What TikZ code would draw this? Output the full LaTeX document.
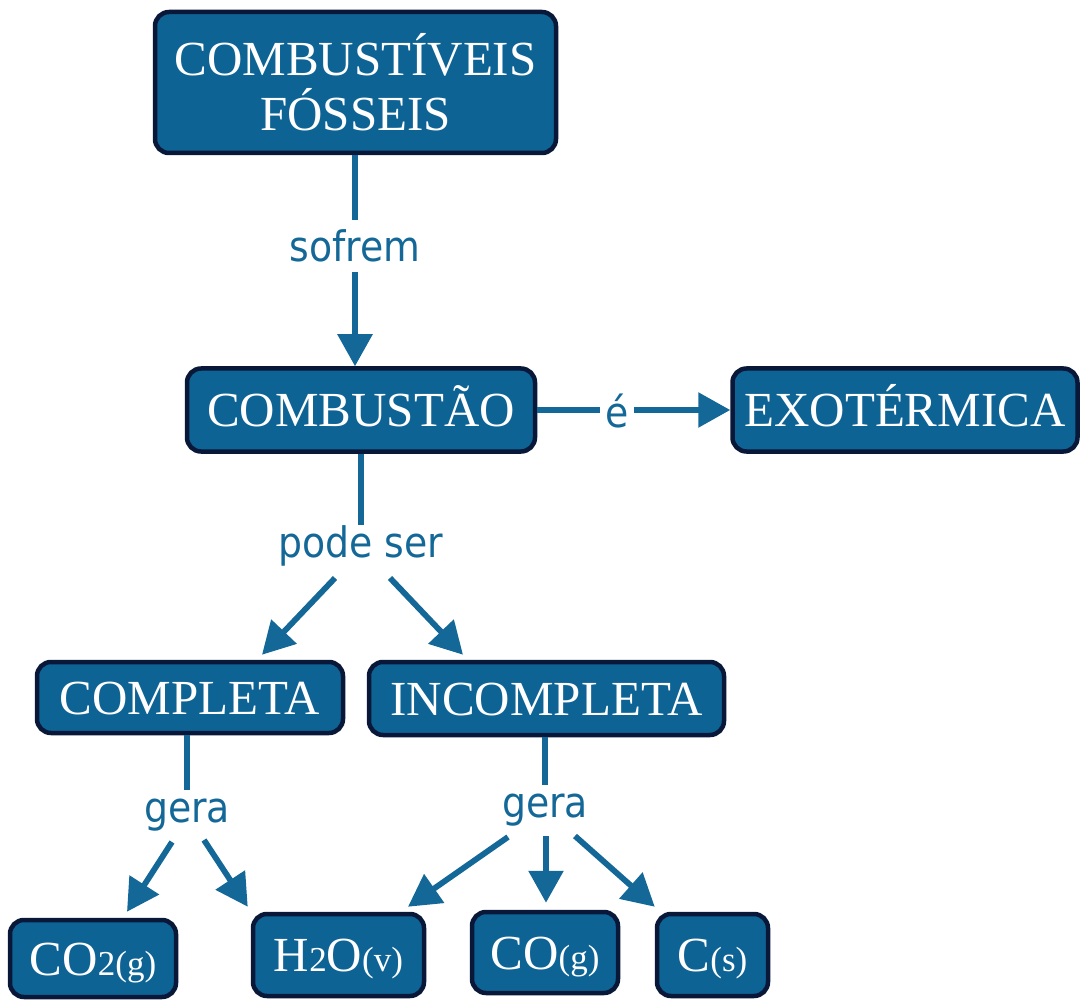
\documentclass[tikz,border=0pt]{standalone}
\usepackage{fontspec}
\setmainfont{Liberation Serif}
\newfontfamily\lblfont[FakeStretch=0.9]{DejaVu Sans}
\usetikzlibrary{arrows.meta,calc}

\definecolor{boxfill}{RGB}{14,99,149}
\definecolor{boxedge}{RGB}{9,24,56}
\definecolor{ink}{RGB}{20,104,152}

% smaller size for state / index parts of formulas
\newcommand\sml[1]{{\fontsize{35}{35}\selectfont #1}}

\begin{document}
\begin{tikzpicture}[x=1pt,y=-1pt,
  box/.style={draw=boxedge, fill=boxfill, line width=4.5pt, rounded corners=14pt,
    text=white, font=\fontsize{49}{55}\selectfont, inner sep=0pt,
    text height=33pt, text depth=0pt},
  tallbox/.style={draw=boxedge, fill=boxfill, line width=4.5pt, rounded corners=14pt,
    text=white, font=\fontsize{49}{55}\selectfont, inner sep=0pt, align=center},
  lbl/.style={text=ink, font=\lblfont\fontsize{42}{42}\selectfont, inner sep=0pt, anchor=base},
  ln/.style={draw=ink, line width=5.8pt},
  arr/.style={ln, -{Triangle[length=32pt,width=34pt]}}
]
\useasboundingbox (0,0) rectangle (1085,1000);

% concept boxes
\node[tallbox, minimum width=401, minimum height=141] (fos) at (355.5,82.5) {COMBUSTÍVEIS\\FÓSSEIS};
\node[box, minimum width=348, minimum height=83] (comb) at (361,410) {COMBUSTÃO};
\node[box, minimum width=345, minimum height=83] (exo) at (905,410) {EXOTÉRMICA};
\node[box, minimum width=306, minimum height=71] (cpl) at (190,697.5) {COMPLETA};
\node[box, minimum width=355, minimum height=73] (inc) at (546.5,698.5) {INCOMPLETA};
\node[box, minimum width=166, minimum height=77] (co2) at (93,958.5) {CO\sml{2(g)}};
\node[box, minimum width=171, minimum height=82] (h2o) at (338.5,955) {H\sml{2}O\sml{(v)}};
\node[box, minimum width=146, minimum height=81] (co) at (545,952.5) {CO\sml{(g)}};
\node[box, minimum width=111, minimum height=82] (cs) at (712.5,955) {C\sml{(s)}};

% link words
\node[lbl] (sof) at (355,262) {sofrem};
\node[lbl] (e) at (617,428) {é};
\node[lbl] (ps) at (361,557) {pode ser};
\node[lbl] (g1) at (187,822) {gera};
\node[lbl] (g2) at (545,817) {gera};

% connectors
\draw[ln] (sof.base |- fos.south) -- ($(sof.base)+(0,-42)$);
\draw[arr] ($(sof.base)+(0,10)$) -- (sof.base |- comb.north);

\draw[ln, shorten >=5pt] (comb.east) -- (comb.east -| e.west);
\draw[arr, shorten <=5pt] (e.east |- comb.east) -- (exo.west);

\draw[ln] (ps.base |- comb.south) -- ($(ps.base)+(0,-32)$);
\draw[arr] ($(ps.base)+(-26,21)$) -- ($(cpl.north)+(72,-5)$);
\draw[arr] ($(ps.base)+(29,21)$) -- ($(inc.north)+(-83.5,-5)$);

\draw[ln] (g1.base |- cpl.south) -- ($(g1.base)+(0,-32)$);
\draw[arr] ($(g1.base)+(-15,20)$) -- ($(co2.north)+(34,-6)$);
\draw[arr] ($(g1.base)+(17,18)$) -- ($(h2o.north west)+(-3,-5)$);

\draw[ln] (g2.base |- inc.south) -- ($(g2.base)+(0,-32)$);
\draw[arr] ($(g2.base)+(-37,20)$) -- ($(h2o.north)+(69.5,-5)$);
\draw[arr] ($(g2.base)+(1,19)$) -- ($(g2.base |- co.north)+(1,-7)$);
\draw[arr] ($(g2.base)+(30,19)$) -- ($(cs.north west)+(0,-5)$);
\end{tikzpicture}
\end{document}
